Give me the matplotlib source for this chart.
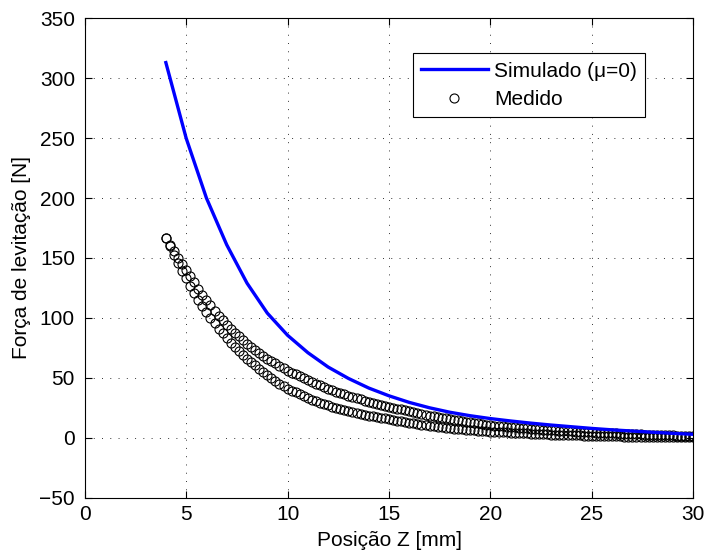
import matplotlib
matplotlib.use("Agg")
import matplotlib.pyplot as plt
import numpy as np

plt.rcParams['font.family'] = ['Liberation Sans', 'DejaVu Sans']

# Simulated curve (integer positions)
z_sim = [4, 5, 6, 7, 8, 9, 10, 11, 12, 13, 14, 15, 16, 17, 18, 19, 20,
         21, 22, 23, 24, 25, 26, 27, 28, 29, 30]
f_sim = [313, 250, 200, 161, 129, 104, 85.5, 71, 59, 49.5, 41.5, 35, 29.5, 25,
         21.3, 18.4, 16, 14, 12.2, 10.6, 9.2, 7.8, 6.6, 5.6, 4.6, 3.7, 2.9]

# Measured positions (mm), 0.2 mm step
z_med = [round(4.0 + 0.2 * i, 1) for i in range(131)]

# Measured force, branch 1 (upper)
f_med_up = [167, 161, 156, 150, 145, 140, 135, 130, 124.5, 119.5,
            115, 110.5, 106, 102, 98, 94, 90.8, 87.6, 84.5, 81.2,
            78, 75.6, 73.2, 70.8, 68.4, 66, 64, 62, 60, 58,
            56, 54.4, 52.8, 51.2, 49.6, 48, 46.6, 45.2, 43.8, 42.4,
            41, 39.8, 38.6, 37.4, 36.2, 35, 34, 33, 32, 31,
            30, 29.2, 28.4, 27.6, 26.8, 26, 25.2, 24.4, 23.6, 22.8,
            22, 21.3, 20.6, 19.9, 19.2, 18.5, 17.9, 17.3, 16.7, 16.1,
            15.5, 15, 14.5, 14, 13.5, 13, 12.5, 12, 11.5, 11,
            10.5, 10.2, 9.9, 9.6, 9.3, 9, 8.7, 8.4, 8.1, 7.8,
            7.5, 7.3, 7.0, 6.8, 6.5, 6.3, 6.1, 5.9, 5.7, 5.5,
            5.3, 5.1, 5.0, 4.8, 4.7, 4.5, 4.3, 4.2, 4.0, 3.9,
            3.7, 3.6, 3.4, 3.3, 3.1, 3.0, 2.9, 2.8, 2.6, 2.5,
            2.4, 2.3, 2.2, 2.1, 2.0, 1.9, 1.8, 1.7, 1.7, 1.6,
            1.5]

# Measured force, branch 2 (lower)
f_med_low = [167, 160, 152.5, 146, 139.5, 133, 127, 121, 115, 110,
             105, 100, 95.5, 91, 87, 83, 79.4, 75.8, 72.4, 69.2,
             66, 63.2, 60.4, 57.6, 54.8, 52, 49.6, 47.2, 45, 43,
             41, 39.4, 37.8, 36.2, 34.6, 33, 31.8, 30.6, 29.4, 28.2,
             27, 26, 25, 24, 23, 22, 21.3, 20.6, 19.9, 19.2,
             18.5, 17.9, 17.3, 16.7, 16.1, 15.5, 14.9, 14.3, 13.7, 13.1,
             12.5, 12, 11.5, 11, 10.5, 10, 9.6, 9.2, 8.8, 8.4,
             8, 7.7, 7.4, 7.1, 6.8, 6.5, 6.2, 6.0, 5.7, 5.5,
             5.2, 5.0, 4.8, 4.6, 4.4, 4.2, 4.0, 3.9, 3.7, 3.6,
             3.4, 3.3, 3.1, 3.0, 2.8, 2.7, 2.6, 2.5, 2.3, 2.2,
             2.1, 2.0, 1.9, 1.8, 1.7, 1.6, 1.5, 1.4, 1.4, 1.3,
             1.2, 1.1, 1.1, 1.0, 1.0, 0.9, 0.8, 0.8, 0.7, 0.7,
             0.6, 0.6, 0.5, 0.5, 0.4, 0.4, 0.4, 0.4, 0.3, 0.3,
             0.3]

x_ticks = [0, 5, 10, 15, 20, 25, 30]
y_ticks = [-50, 0, 50, 100, 150, 200, 250, 300, 350]

fig = plt.figure(figsize=(7.06, 5.53), dpi=100)
ax = fig.add_axes([0.120, 0.100, 0.862, 0.867])

ax.plot(z_sim, f_sim, color='#0000ff', lw=2.4, label='Simulado (\u03bc=0)', zorder=3)
z_all = z_med + z_med
f_all = f_med_up + f_med_low
ax.plot(z_all, f_all, linestyle='none', marker='o', markersize=6.5,
        markerfacecolor='none', markeredgecolor='black', markeredgewidth=0.8,
        label='Medido', zorder=2)

ax.set_xlim(0, 30)
ax.set_ylim(-50, 350)
ax.set_xticks(x_ticks)
ax.set_yticks(y_ticks)
ax.tick_params(direction='in', top=True, right=True, labelsize=15, length=5, width=0.8)
ax.tick_params(axis='y', pad=7)
ax.tick_params(axis='x', pad=5)
ax.grid(True, color='#333333', linestyle=(0, (1, 7.5)), linewidth=0.7)
for s in ax.spines.values():
    s.set_linewidth(0.8)

ax.set_xlabel('Posição Z [mm]', fontsize=15, labelpad=5)
ax.set_ylabel('Força de levitação [N]', fontsize=15, labelpad=6)

leg = ax.legend(loc='upper right', bbox_to_anchor=(0.921, 0.927), borderaxespad=0,
                fontsize=15, fancybox=False, edgecolor='black', framealpha=1,
                handlelength=3.2, handletextpad=0.3, borderpad=0.4, labelspacing=0.45)
leg.get_frame().set_linewidth(0.8)

fig.savefig('out.png', dpi=100)
